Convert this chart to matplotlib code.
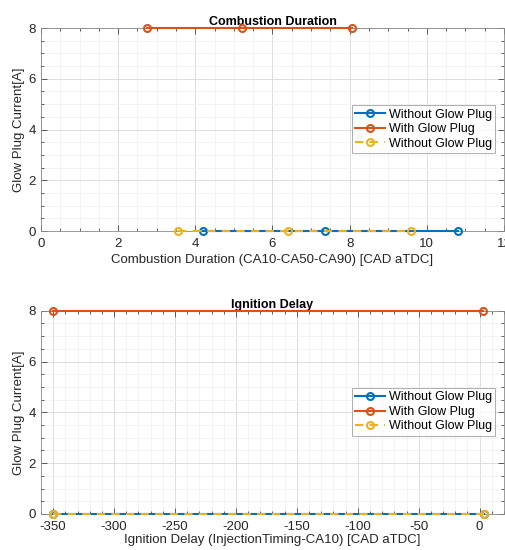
import numpy as np
import matplotlib
matplotlib.use("Agg")
import matplotlib.pyplot as plt
from matplotlib.ticker import MultipleLocator

plt.rcParams['font.family'] = ['Liberation Sans', 'DejaVu Sans']
plt.rcParams['axes.unicode_minus'] = False

# combustion duration data (CA10, CA50, CA90)
cd_without = [4.2, 7.35, 10.8]
cd_with = [2.75, 5.2, 8.05]
cd_without2 = [3.55, 6.4, 9.6]
cd_cur_without = [0, 0, 0]
cd_cur_with = [8, 8, 8]

# ignition delay data
id_without = [-350, 4]
id_with = [-350, 3]
id_without2 = [-350, 4]
id_cur_without = [0, 0]
id_cur_with = [8, 8]

labels = ['Without Glow Plug', 'With Glow Plug', 'Without Glow Plug']
c_blue = '#0072BD'
c_orange = '#D95319'
c_yellow = '#EDB120'
txt = '#262626'

fig = plt.figure(figsize=(5.06, 5.5), dpi=100)
ax1 = fig.add_axes([0.081, 0.58, 0.915, 0.369])
ax2 = fig.add_axes([0.081, 0.0655, 0.915, 0.3695])


def style(ax, xminor):
    ax.yaxis.set_major_locator(MultipleLocator(2))
    ax.yaxis.set_minor_locator(MultipleLocator(0.5))
    ax.xaxis.set_minor_locator(MultipleLocator(xminor))
    ax.grid(which='major', color='#d9d9d9', lw=0.6)
    ax.grid(which='minor', color='#efefef', lw=0.5)
    ax.set_axisbelow(True)
    ax.tick_params(which='both', direction='in', top=True, right=True,
                   colors=txt, labelsize=9.5, width=0.5)
    ax.tick_params(which='major', length=4)
    ax.tick_params(which='minor', length=2)
    ax.tick_params(axis='x', pad=5)
    for s in ax.spines.values():
        s.set_color('#8a8a8a')
        s.set_linewidth(0.6)
    ax.set_ylabel('Glow Plug Current[A]', fontsize=9.5, color=txt, labelpad=3)
    leg = ax.legend(loc='center right', fontsize=9, frameon=True, fancybox=False,
                    edgecolor='#9a9a9a', borderpad=0.25, labelspacing=0.2,
                    handlelength=2.4, handletextpad=0.3, borderaxespad=0,
                    bbox_to_anchor=(0.981, 0.502))
    leg.get_frame().set_linewidth(0.7)
    leg.set_zorder(6)


mk = dict(marker='o', mfc='none', ms=5, mew=1.5, lw=1.5, clip_on=False, zorder=4)

ax1.plot(cd_without, cd_cur_without, color=c_blue, label=labels[0], **mk)
ax1.plot(cd_with, cd_cur_with, color=c_orange, label=labels[1], **mk)
ax1.plot(cd_without2, cd_cur_without, color=c_yellow, ls='--', dashes=(4, 3),
         label=labels[2], **mk)
ax1.set_xlim(0, 12)
ax1.set_ylim(0, 8)
ax1.xaxis.set_major_locator(MultipleLocator(2))
ax1.set_title('Combustion Duration', fontsize=9, fontweight='bold', pad=1)
ax1.set_xlabel('Combustion Duration (CA10-CA50-CA90) [CAD aTDC]', fontsize=9.5,
               color=txt, labelpad=3)
style(ax1, 0.5)

ax2.plot(id_without, id_cur_without, color=c_blue, label=labels[0], **mk)
ax2.plot(id_with, id_cur_with, color=c_orange, label=labels[1], **mk)
ax2.plot(id_without2, id_cur_without, color=c_yellow, ls='--', dashes=(4, 3),
         label=labels[2], **mk)
ax2.set_xlim(-360, 20)
ax2.set_ylim(0, 8)
ax2.set_xticks(np.arange(-350, 1, 50))
ax2.set_title('Ignition Delay', fontsize=9, fontweight='bold', pad=1)
ax2.set_xlabel('Ignition Delay (InjectionTiming-CA10) [CAD aTDC]', fontsize=9.5,
               color=txt, labelpad=1)
style(ax2, 10)

fig.savefig('out.png', dpi=100)
